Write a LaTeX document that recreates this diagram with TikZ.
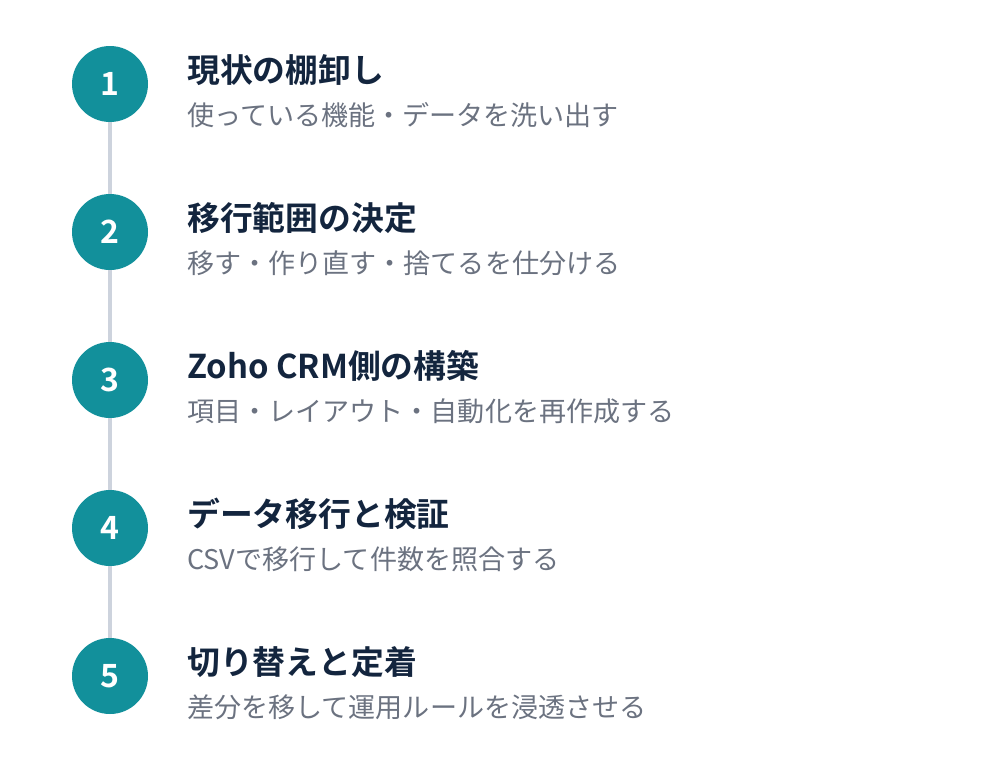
\documentclass[tikz,border=0pt]{standalone}
\usepackage{fontspec}
\setmainfont{Noto Sans CJK JP}
\newfontfamily\jpbold{Noto Sans CJK JP Bold}
\definecolor{teal1}{HTML}{12909B}
\definecolor{navy1}{HTML}{13253E}
\definecolor{gray1}{HTML}{6B7280}
\definecolor{line1}{HTML}{CDD3DD}
\begin{document}
\begin{tikzpicture}[x=0.75pt,y=-0.75pt,
  stepcircle/.style={circle,fill=teal1,minimum size=57pt,inner sep=0pt,text=white,font=\jpbold\fontsize{24}{24}\selectfont},
  titletext/.style={anchor=west,inner sep=0pt,text=navy1,font=\jpbold\fontsize{24.6}{26}\selectfont},
  subtext/.style={anchor=west,inner sep=0pt,text=gray1,font=\fontsize{20.3}{22}\selectfont},
  conn/.style={draw=line1,line width=3pt}]
\useasboundingbox (0,0) rectangle (1000,760);
\foreach \i/\t/\s in {1/現状の棚卸し/使っている機能・データを洗い出す,
  2/移行範囲の決定/移す・作り直す・捨てるを仕分ける,
  3/Zoho CRM側の構築/項目・レイアウト・自動化を再作成する,
  4/データ移行と検証/CSVで移行して件数を照合する,
  5/切り替えと定着/差分を移して運用ルールを浸透させる}{
  \pgfmathsetmacro\yy{84+148*(\i-1)}
  \node[stepcircle] (c\i) at (110,\yy) {\i};
  \node[titletext] (t\i) at (187,\yy-14) {\t};
  \node[subtext] (s\i) at (187,\yy+31) {\s};
}
\foreach \a/\b in {1/2,2/3,3/4,4/5}{
  \draw[conn] (c\a.south) -- (c\b.north);
}
\end{tikzpicture}
\end{document}
